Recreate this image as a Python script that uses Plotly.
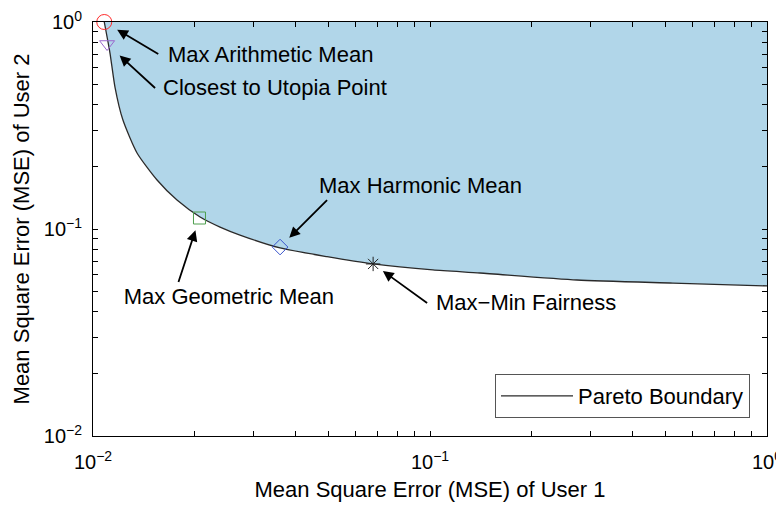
import math
import plotly.graph_objects as go

# ---- data ----
pareto_x = [0.0108, 0.01123, 0.01162, 0.01227, 0.01351, 0.01549, 0.01775, 0.02078,
            0.02382, 0.0273, 0.0359, 0.0495, 0.0678, 0.102, 0.1407, 0.273, 0.526, 1.0]
pareto_y = [1.0, 0.708, 0.485, 0.336, 0.233, 0.1725, 0.138, 0.1143,
            0.1022, 0.0935, 0.0810, 0.0735, 0.0678, 0.0634, 0.0613, 0.0567, 0.0548, 0.0531]

point_names = ["Max Arithmetic Mean", "Closest to Utopia Point", "Max Geometric Mean",
               "Max Harmonic Mean", "Max\u2212Min Fairness"]
point_x = [0.0108, 0.01101, 0.0207, 0.0359, 0.0678]
point_y = [1.0, 0.783, 0.113, 0.0818, 0.0678]
point_symbols = ["circle-open", "triangle-down-open", "square-open", "diamond-open", "asterisk-open"]
point_colors = ["#ff2a2a", "#9a66cc", "#4f9f4f", "#3a55cc", "#222222"]
point_sizes = [15, 13, 12, 12, 12]

major_ticks = [0.01, 0.1, 1.0]
major_labels = ["10<sup>\u22122</sup>", "10<sup>\u22121</sup>", "10<sup>0</sup>"]
minor_ticks = [k * 10.0 ** d for d in (-2, -1) for k in range(2, 10)]

# label/arrow styling: tail offset from marker (px), anchors, padding, box width
arrow_ax = [54, 48, -21, 47, 54]
arrow_ay = [32, 44, 64, -47, 39]
arrow_standoff = [15, 17, 13, 13, 12]
label_xanchor = ["left", "left", "center", "center", "left"]
label_yanchor = ["middle", "middle", "top", "bottom", "middle"]
label_align = ["left", "left", "right", "right", "left"]
label_pad = [9, 7, 1, 1, 8]
label_width = [None, None, 312, 390, None]

# ---- layout geometry (page body has an 8px margin) ----
BODY = 8
W, H = 784 - BODY, 507 - BODY
ML, MR, MT, MB = 93 - BODY, 17, 22 - BODY, 71
PW, PH = W - ML - MR, H - MT - MB
FONT = "Liberation Sans, Arial, Helvetica, sans-serif"
FS = 22


def paper_x(px):
    return (px - 93) / PW


def paper_y(py):
    return (436 - py) / PH


fig = go.Figure()

# shaded region above the Pareto boundary
fig.add_trace(go.Scatter(
    x=pareto_x + [1.0, pareto_x[0]], y=pareto_y + [1.0, 1.0],
    fill="toself", fillcolor="rgb(177,214,233)", line=dict(width=0),
    mode="lines", showlegend=False, hoverinfo="skip"))

fig.add_trace(go.Scatter(
    x=pareto_x, y=pareto_y, mode="lines", name="Pareto Boundary",
    line=dict(color="#2a2a2a", width=1.3, shape="spline", smoothing=0.6)))

for i in range(len(point_names)):
    fig.add_trace(go.Scatter(
        x=[point_x[i]], y=[point_y[i]], mode="markers", showlegend=False,
        cliponaxis=False,
        marker=dict(symbol=point_symbols[i], size=point_sizes[i],
                    color=point_colors[i], line=dict(color=point_colors[i], width=1))))

annotations = []
for i in range(len(point_names)):
    ann = dict(
        x=math.log10(point_x[i]), y=math.log10(point_y[i]), xref="x", yref="y",
        text=point_names[i], showarrow=True, ax=arrow_ax[i], ay=arrow_ay[i],
        axref="pixel", ayref="pixel", arrowhead=2, arrowsize=1.2, arrowwidth=1.8,
        arrowcolor="black", standoff=arrow_standoff[i],
        xanchor=label_xanchor[i], yanchor=label_yanchor[i], align=label_align[i],
        borderpad=label_pad[i],
        font=dict(family=FONT, size=FS, color="black"))
    if label_width[i]:
        ann["width"] = label_width[i]
    annotations.append(ann)

axis_common = dict(
    type="log", range=[-2, 0], tickvals=major_ticks, ticktext=major_labels,
    ticks="inside", ticklen=5, tickcolor="black", tickwidth=1,
    minor=dict(tickvals=minor_ticks, ticks="inside", ticklen=5, tickcolor="black",
               tickwidth=1, showgrid=False),
    showline=True, linecolor="black", linewidth=1, automargin=False,
    ticklabeloverflow="allow",
    mirror="ticks", showgrid=False, zeroline=False,
    tickfont=dict(family=FONT, size=20, color="black"))

fig.update_layout(
    width=W, height=H, margin=dict(l=ML, r=MR, t=MT, b=MB),
    paper_bgcolor="white", plot_bgcolor="white",
    xaxis=dict(axis_common, ticklabelstandoff=8,
               title=dict(text="Mean Square Error (MSE) of User 1",
                          font=dict(family=FONT, size=FS, color="black"), standoff=9)),
    yaxis=dict(axis_common, ticklabelstandoff=6,
               title=dict(text="Mean Square Error (MSE) of User 2",
                          font=dict(family=FONT, size=FS, color="black"), standoff=8)),
    legend=dict(x=paper_x(750), y=paper_y(418), xanchor="right", yanchor="bottom",
                bordercolor="#555555", borderwidth=1, bgcolor="white", itemwidth=72,
                font=dict(family=FONT, size=22, color="black")),
    annotations=annotations,
    showlegend=True,
)

fig.write_html("out.html")
